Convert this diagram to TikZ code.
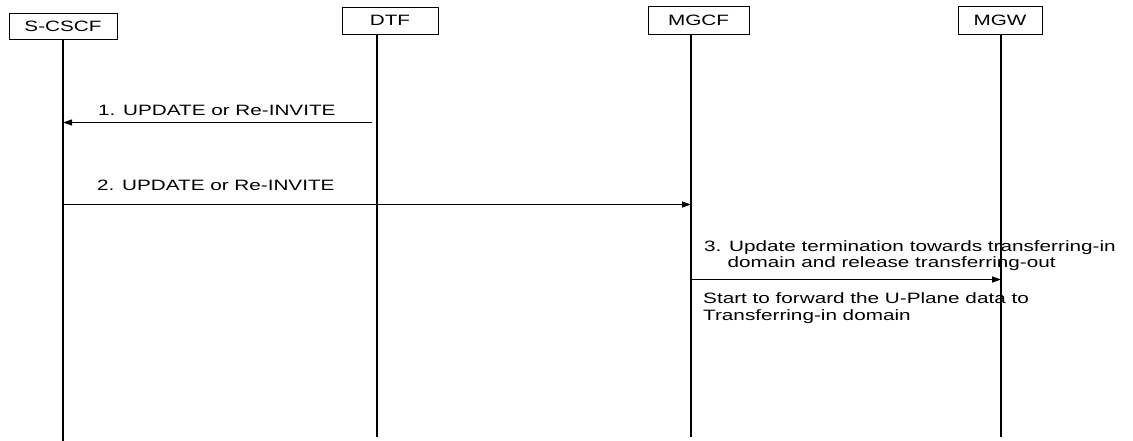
\documentclass[tikz,border=0pt]{standalone}
\usepackage{fontspec}
\setmainfont{Liberation Sans}
\usetikzlibrary{arrows.meta}

\newcommand{\wide}[1]{\scalebox{1.38}[1]{#1}}

\begin{document}
\begin{tikzpicture}[
            x=1pt, y=-1pt,
            font=\fontsize{15}{17}\selectfont,
            entity/.style={draw, line width=0.9pt, inner sep=0pt},
            life/.style={line width=2.4pt},
            msg/.style={line width=1.2pt, -{Triangle[length=9pt,width=6pt]}},
            lbl/.style={inner sep=0pt, anchor=base west},
            ]
            \useasboundingbox (0,0) rectangle (1133,441);
            % entities
            \node[entity, minimum width=108pt, minimum height=26pt] (scscf) at (63,26) {\wide{S-CSCF}};
            \node[entity, minimum width=96pt, minimum height=27pt] (dtf) at (390,20.5) {\wide{DTF}};
            \node[entity, minimum width=101pt, minimum height=28pt] (mgcf) at (698.5,20) {\wide{MGCF}};
            \node[entity, minimum width=84pt, minimum height=28pt] (mgw) at (1000,20) {\wide{MGW}};
            % lifelines
            \foreach \n/\x/\yt/\yb in {scscf/63/39/441, dtf/377/34/437, mgcf/691/34/437, mgw/1001/34/437} {
                \coordinate (\n-top) at (\x,\yt);
                \coordinate (\n-bot) at (\x,\yb);
                \draw[life] (\n-top) -- (\n-bot);
            }
            % message rows
            \coordinate (t1) at (0,122.5);
            \coordinate (t2) at (0,204.5);
            \coordinate (t3) at (0,279.5);
            \draw[msg, shorten <=5pt] (dtf-top |- t1) -- (scscf-top |- t1);
            \node[lbl] (m1) at (98,116) {\wide{1. UPDATE or Re-INVITE}};
            \draw[msg] (scscf-top |- t2) -- (mgcf-top |- t2);
            \node[lbl] (m2) at (97,190) {\wide{2. UPDATE or Re-INVITE}};
            \draw[msg] (mgcf-top |- t3) -- (mgw-top |- t3);
            \node[lbl] (m3) at (704,251) {\wide{\begin{tabular}[t]{@{}l@{}}3. Update termination towards transferring-in\\\hspace*{17pt}domain and release transferring-out\end{tabular}}};
            \node[lbl] (fwd) at (703,303) {\wide{\begin{tabular}[t]{@{}l@{}}Start to forward the U-Plane data to\\Transferring-in domain\end{tabular}}};
        \end{tikzpicture}
\end{document}
